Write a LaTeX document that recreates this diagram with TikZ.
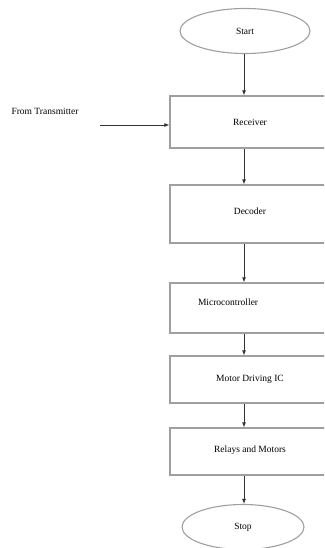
\documentclass[tikz,border=0pt]{standalone}
\usepackage{fontspec}
\setmainfont{Liberation Serif}
\usepackage{tikz}
\usetikzlibrary{shapes.geometric, arrows.meta, positioning}

\begin{document}
\begin{tikzpicture}[
  x=1pt, y=-1pt,
  stepbox/.style={
    draw=gray!75, line width=1.3pt, fill=white,
    minimum width=160pt, minimum height=#1,
    align=center, font=\fontsize{9.5}{11}\selectfont
  },
  terminal/.style={
    ellipse, draw=gray!75, line width=1.1pt,
    minimum width=#1, minimum height=45pt,
    font=\fontsize{9.5}{11}\selectfont
  },
  connector/.style={
    -{Latex[length=5pt, width=4pt]}, line width=0.8pt, color=black!80
  }
]
\useasboundingbox (0,0) rectangle (324,548);
\clip (0,0) rectangle (324,548);

% Start / Stop
\node[terminal=130pt] (start) at (245, 31) {Start};
\node[terminal=122pt] (stop) at (243, 527) {Stop};

% Blocks
\node[stepbox=52pt] (rx) at (250, 122) {Receiver};
\node[stepbox=58pt, text depth=6pt] (dec) at (250, 214) {Decoder};
\node[stepbox=50pt, align=left, text width=104pt, inner xsep=28pt, text depth=12pt] (mcu) at (250, 308) {Microcontroller};
\node[stepbox=47pt] (drv) at (250, 379.5) {Motor Driving IC};
\node[stepbox=47pt, text depth=5pt] (rly) at (250, 451.5) {Relays and Motors};

% Input
\node[font=\fontsize{9.5}{11}\selectfont, anchor=west] (src) at (8, 111) {From Transmitter};
\coordinate (tx) at (100, 125);

% Connections
\draw[connector] (start.south -| 244,0) -- (rx.north -| 244,0);
\draw[connector] (rx.south -| 244,0) -- (dec.north -| 244,0);
\draw[connector] (dec.south -| 244,0) -- (mcu.north -| 244,0);
\draw[connector] (mcu.south -| 244,0) -- (drv.north -| 244,0);
\draw[connector] (drv.south -| 244,0) -- (rly.north -| 244,0);
\draw[connector] (rly.south -| 244,0) -- (stop.north -| 244,0);
\draw[connector] (tx) -- (tx -| rx.west);

\end{tikzpicture}
\end{document}
